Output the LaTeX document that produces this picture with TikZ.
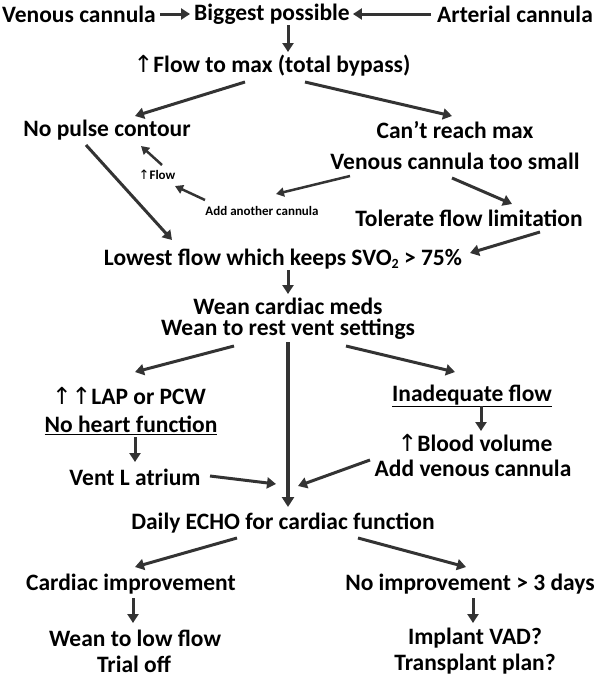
\documentclass[tikz,border=0pt]{standalone}
\usepackage{fontspec}
\setmainfont{Carlito}
\newfontfamily\symfont{DejaVu Sans}
\usetikzlibrary{arrows.meta}
\newcommand{\upa}{{\symfont\mdseries ↑}}
\newcommand{\subtwo}{\raisebox{-0.3ex}{\fontsize{14}{14}\selectfont 2}}
\begin{document}
\begin{tikzpicture}[x=1pt,y=-1pt,
  txt/.style={font=\fontsize{23.5}{27}\selectfont\bfseries, inner sep=0pt, align=center},
  small/.style={font=\fontsize{13}{15}\selectfont\bfseries, inner sep=0pt},
  arr/.style={draw=black!80, line width=3pt, -{Triangle[width=11pt,length=9pt]}},
  arrs/.style={draw=black!80, line width=2.5pt, -{Triangle[width=9pt,length=8pt]}},
  vline/.style={draw=black!80, line width=3.5pt, -{Triangle[width=12pt,length=10pt]}}]
\useasboundingbox (0,0) rectangle (596,678);
% nodes
\node[txt] (ven) at (79,14) {Venous cannula};
\node[txt] (big) at (272,14) {Biggest possible};
\node[txt] (art) at (515,14) {Arterial cannula};
\node[txt] (fmax) at (272,66) {\upa Flow to max (total bypass)};
\node[txt] (nopulse) at (107,130) {No pulse contour};
\node[txt] (cant) at (455,130) {Can't reach max};
\node[txt] (vsmall) at (455,161) {Venous cannula too small};
\node[small] (upflow) at (157,175) {\upa Flow};
\node[small] (addan) at (262,211) {Add another cannula};
\node[txt] (toler) at (469,218) {Tolerate flow limitation};
\node[txt] (lowest) at (283,259) {Lowest flow which keeps SVO\subtwo{} {>} 75\%};
\node[txt] (weanmeds) at (288,306) {Wean cardiac meds};
\node[txt] (weanrest) at (288,329) {Wean to rest vent settings};
\node[txt] (lap) at (129,396) {\upa\upa LAP or PCW};
\node[txt] (inad) at (472,396) {\underline{Inadequate flow}};
\node[txt] (noheart) at (131,425) {\underline{No heart function}};
\node[txt] (blood) at (475,443) {\upa Blood volume};
\node[txt] (addven) at (473,468) {Add venous cannula};
\node[txt] (ventl) at (135,477) {Vent L atrium};
\node[txt] (echo) at (283,523) {Daily ECHO for cardiac function};
\node[txt] (cardimp) at (131,584) {Cardiac improvement};
\node[txt] (noimp) at (470,584) {No improvement {>} 3 days};
\node[txt] (weanlow) at (135,638) {Wean to low flow};
\node[txt] (trial) at (134,664) {Trial off};
\node[txt] (vad) at (475,638) {Implant VAD?};
\node[txt] (transp) at (475,664) {Transplant plan?};
% arrow end points
\coordinate (a1) at (245,82); \coordinate (a2) at (135,116);
\coordinate (b1) at (305,82); \coordinate (b2) at (452,116);
\coordinate (c1) at (162,165); \coordinate (c2) at (141,146);
\coordinate (d1) at (205,200); \coordinate (d2) at (175,186);
\coordinate (e1) at (350,176); \coordinate (e2) at (276,194);
\coordinate (f1) at (452,178); \coordinate (f2) at (512,204);
\coordinate (g1) at (86,145); \coordinate (g2) at (172,240);
\coordinate (h1) at (540,232); \coordinate (h2) at (470,253);
\coordinate (i1) at (234,346); \coordinate (i2) at (135,372);
\coordinate (j1) at (346,346); \coordinate (j2) at (455,372);
\coordinate (k1) at (288,342); \coordinate (k2) at (288,507);
\coordinate (l1) at (210,476); \coordinate (l2) at (276,484);
\coordinate (m1) at (370,460); \coordinate (m2) at (298,486);
\coordinate (n1) at (237,538); \coordinate (n2) at (135,567);
\coordinate (o1) at (358,538); \coordinate (o2) at (466,567);
% connectors
\draw[arr] ([xshift=4pt]ven.east) -- ([xshift=-4pt]big.west);
\draw[arr] ([xshift=-6pt]art.west) -- ([xshift=3pt]big.east);
\draw[arr] (288,25) -- (288,52);
\draw[arr] (a1) -- (a2);
\draw[arr] (b1) -- (b2);
\draw[arrs] (c1) -- (c2);
\draw[arrs] (d1) -- (d2);
\draw[arrs] (e1) -- (e2);
\draw[arr] (f1) -- (f2);
\draw[arr] (g1) -- (g2);
\draw[arr] (h1) -- (h2);
\draw[arr] (288,270) -- (288,294);
\draw[arr] (i1) -- (i2);
\draw[arr] (j1) -- (j2);
\draw[vline] (k1) -- (k2);
\draw[arr] (135,437) -- (135,462);
\draw[arr] (481,406) -- (481,431);
\draw[arr] (l1) -- (l2);
\draw[arr] (m1) -- (m2);
\draw[arr] (n1) -- (n2);
\draw[arr] (o1) -- (o2);
\draw[arr] (133,598) -- (133,623);
\draw[arr] (473,598) -- (473,623);
\end{tikzpicture}
\end{document}
